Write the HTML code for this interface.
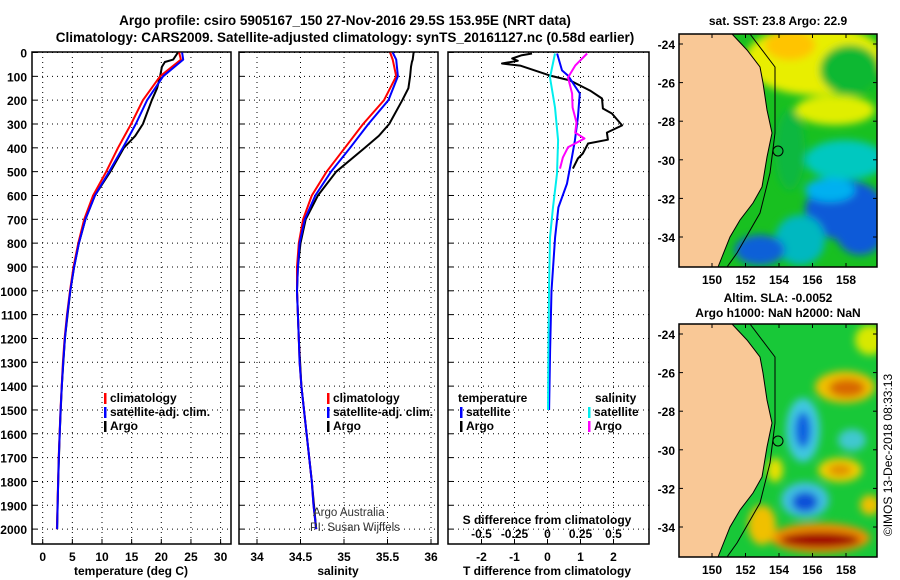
<!DOCTYPE html>
<html><head><meta charset="utf-8"><style>
html,body{margin:0;padding:0;background:#fff;}
svg{display:block;font-family:"Liberation Sans",sans-serif;}
.b{font-weight:bold;font-size:12px;fill:#000;}
.t{font-weight:bold;font-size:13.5px;fill:#000;}
</style></head><body>
<svg id="s" width="900" height="580" viewBox="0 0 900 580" xmlns="http://www.w3.org/2000/svg">
<text class="t" x="345" y="25" text-anchor="middle">Argo profile: csiro 5905167_150 27-Nov-2016 29.5S 153.95E (NRT data)</text>
<text class="t" x="345" y="42" text-anchor="middle">Climatology: CARS2009. Satellite-adjusted climatology: synTS_20161127.nc (0.58d earlier)</text>
<g id="p1"></g>
<g id="p2"></g>
<g id="p3"></g>
<g id="m1"></g>
<g id="m2"></g>
<text class="b" x="0" y="0" transform="translate(892,455) rotate(-90)" text-anchor="middle" style="font-weight:normal;font-size:12px">©IMOS 13-Dec-2018 08:33:13</text>
</svg>
<script>
const depthTicks=[0,100,200,300,400,500,600,700,800,900,1000,1100,1200,1300,1400,1500,1600,1700,1800,1900,2000];
const tempTicks=[0,5,10,15,20,25,30];
const salTicks=[34,34.5,35,35.5,36];
const salTickLabels=["34","34.5","35","35.5","36"];
const tdTicks=[-2,-1,0,1,2];
const sdTicks=[-0.5,-0.25,0,0.25,0.5];
const sdTickLabels=["-0.5","-0.25","0","0.25","0.5"];
const profDepth=[0,30,100,200,300,400,500,600,700,800,900,1000,1100,1200,1300,1400,1500,1600,1700,1800,1900,2000];
const tempClim=[23.0,23.3,19.8,16.9,14.9,12.7,10.7,8.5,7.0,6.0,5.2,4.6,4.1,3.7,3.4,3.2,3.0,2.85,2.7,2.6,2.5,2.4];
const tempSat=[23.5,23.7,20.3,17.6,15.7,13.5,11.2,8.8,7.2,6.1,5.3,4.65,4.15,3.75,3.45,3.22,3.02,2.87,2.72,2.62,2.52,2.42];
const argoDepth=[0,30,40,60,100,150,200,300,350,400,500,600,700,800,900,1000,1200,1400,1600,1800,2000];
const tempArgo=[22.8,22.0,20.6,20.1,19.8,19.3,18.4,16.9,15.6,13.7,11.4,8.8,7.2,6.1,5.3,4.65,3.75,3.22,2.87,2.62,2.42];
const salClim=[35.53,35.56,35.60,35.46,35.22,35.01,34.80,34.63,34.53,34.48,34.46,34.46,34.47,34.48,34.49,34.51,34.54,34.57,34.60,34.63,34.65,34.68];
const salSat=[35.56,35.60,35.62,35.51,35.28,35.07,34.85,34.67,34.55,34.49,34.47,34.46,34.47,34.48,34.49,34.51,34.54,34.57,34.60,34.63,34.65,34.68];
const salArgo=[35.80,35.79,35.78,35.77,35.76,35.74,35.67,35.52,35.40,35.24,34.91,34.70,34.56,34.50,34.47,34.46,34.48,34.51,34.57,34.63,34.68];
const tdArgoDepth=[4,12,25,35,46,55,97,117,138,160,193,235,256,306,336,366,382,424,445,487];
const tdArgo=[-0.47,-0.8,-1.07,-0.9,-1.38,-0.83,0.08,0.68,0.98,1.29,1.65,1.68,1.95,2.26,1.80,1.83,1.23,1.07,0.92,0.77];
const tdSatDepth=[4,75,97,172,272,369,440,550,650,776,1000,1250,1500];
const tdSat=[0.29,0.44,0.62,0.98,0.92,0.83,0.74,0.59,0.33,0.23,0.12,0.08,0.05];
const sdSatDepth=[4,105,231,369,508,650,776,1000,1250,1500];
const sdSat=[0.057,0.019,0.057,0.08,0.072,0.042,0.019,0.011,0.007,0.004];
const sdArgoDepth=[4,55,105,172,231,294,336,361,398,440,487];
const sdArgo=[0.30,0.21,0.155,0.186,0.19,0.22,0.21,0.28,0.155,0.117,0.095];

const NS="http://www.w3.org/2000/svg";
function mk(parent,tag,attrs,name,text){const e=document.createElementNS(NS,tag);for(const k in attrs)e.setAttribute(k,attrs[k]);


if(text!==undefined)e.textContent=text;parent.appendChild(e);return e;}
const TOP=52,BOT=544;
const yD=d=>52.5+d*0.2383;
function panel(g,x0,x1,xs,ticks,tickLabels){
  mk(g,'rect',{x:x0,y:TOP,width:x1-x0,height:BOT-TOP,fill:'#fff',stroke:'#000','stroke-width':1.5},'plot-box');
  ticks.forEach((t,i)=>{const x=xs(t);
    mk(g,'line',{x1:x,x2:x,y1:TOP,y2:BOT,stroke:'#000','stroke-dasharray':'1,4','stroke-width':1},'x-grid-line');
    mk(g,'line',{x1:x,x2:x,y1:BOT,y2:BOT-5,stroke:'#000'},'x-tick');
    if(tickLabels) mk(g,'text',{x:x,y:BOT+17,class:'b','text-anchor':'middle'},'x-tick-label',tickLabels[i]);});
  depthTicks.forEach(d=>{const y=yD(d);
    mk(g,'line',{x1:x0,x2:x1,y1:y,y2:y,stroke:'#000','stroke-dasharray':'1,4','stroke-width':1},'y-grid-line');
    mk(g,'line',{x1:x0,x2:x0+5,y1:y,y2:y,stroke:'#000'},'y-tick');});
}
function pl(g,ds,vs,xs,col,name){mk(g,'polyline',{points:ds.map((d,i)=>xs(vs[i]).toFixed(1)+','+yD(d).toFixed(1)).join(' '),fill:'none',stroke:col,'stroke-width':2,'stroke-linejoin':'round'},name);}
function legend(g,x,y,items){items.forEach((it,i)=>{mk(g,'rect',{x:x,y:y+i*14-9,width:2.5,height:11,fill:it[0]},'legend-marker');
  mk(g,'text',{x:x+6,y:y+i*14,class:'b'},'legend-entry',it[1]);});}
const p1=document.getElementById('p1');
const xT=t=>42.7+t*5.93;
panel(p1,32,231,xT,tempTicks,tempTicks.map(String));
depthTicks.forEach(d=>mk(p1,'text',{x:27,y:yD(d)+5,class:'b','text-anchor':'end'},'y-tick-label',String(d)));
pl(p1,argoDepth,tempArgo,xT,'#000','temp-argo-line');
pl(p1,profDepth,tempClim,xT,'#f00','temp-climatology-line');
pl(p1,profDepth,tempSat,xT,'#00f','temp-satellite-line');
legend(p1,104,402,[['#f00','climatology'],['#00f','satellite-adj. clim.'],['#000','Argo']]);
mk(p1,'text',{x:131,y:575,class:'b','text-anchor':'middle'},'x-axis-title','temperature (deg C)');
const p2=document.getElementById('p2');
const xS=s=>257+(s-34)*87;
panel(p2,239,438,xS,salTicks,salTickLabels);
pl(p2,argoDepth,salArgo,xS,'#000','sal-argo-line');
pl(p2,profDepth,salClim,xS,'#f00','sal-climatology-line');
pl(p2,profDepth,salSat,xS,'#00f','sal-satellite-line');
legend(p2,327,402,[['#f00','climatology'],['#00f','satellite-adj. clim.'],['#000','Argo']]);
mk(p2,'text',{x:313,y:516,style:'font-size:11.5px;fill:#333'},'credit-line-1','Argo Australia');
mk(p2,'text',{x:310,y:531,style:'font-size:11.5px;fill:#333'},'credit-line-2','PI: Susan Wijffels');
mk(p2,'text',{x:338,y:575,class:'b','text-anchor':'middle'},'x-axis-title','salinity');
const p3=document.getElementById('p3');
const xTD=t=>547.5+t*33, xSD=s=>547.5+s*132;
panel(p3,448,649,xTD,tdTicks,tdTicks.map(String));
pl(p3,tdArgoDepth,tdArgo,xTD,'#000','tdiff-argo-line');
pl(p3,tdSatDepth,tdSat,xTD,'#00f','tdiff-satellite-line');
pl(p3,sdSatDepth,sdSat,xSD,'#0ee','sdiff-satellite-line');
pl(p3,sdArgoDepth,sdArgo,xSD,'#f0f','sdiff-argo-line');
mk(p3,'text',{x:458,y:402,class:'b'},'legend-title-temperature','temperature');
legend(p3,460,416,[['#00f','satellite'],['#000','Argo']]);
mk(p3,'text',{x:595,y:402,class:'b'},'legend-title-salinity','salinity');
legend(p3,588,416,[['#0ee','satellite'],['#f0f','Argo']]);
mk(p3,'text',{x:547,y:524,class:'b','text-anchor':'middle'},'s-axis-title','S difference from climatology');
sdTicks.forEach((s,i)=>mk(p3,'text',{x:xSD(s),y:538,class:'b','text-anchor':'middle'},'s-tick-label',sdTickLabels[i]));
mk(p3,'text',{x:547,y:575,class:'b','text-anchor':'middle'},'x-axis-title','T difference from climatology');
const lonTicks=[150,152,154,156,158], latTicks=[-24,-26,-28,-30,-32,-34];
const xL=l=>712+(l-150)*16.75;
function map(g,oy,blobs,title){
  const defs=mk(g,'defs',{},'defs');
  const cid='c'+oy;
  const cp=mk(defs,'clipPath',{id:cid},'clip');mk(cp,'rect',{x:679,y:34+oy,width:198,height:233},'clip-rect');
  const f=mk(defs,'filter',{id:'f'+oy,x:'-50%',y:'-50%',width:'200%',height:'200%'},'blur');mk(f,'feGaussianBlur',{stdDeviation:4},'blur-op');
  const inner=mk(g,'g',{'clip-path':'url(#'+cid+')'},'map-area');
  mk(inner,'rect',{x:679,y:34+oy,width:198,height:233,fill:blobs.bg},'map-background');
  const bg=mk(inner,'g',{filter:'url(#f'+oy+')'},'map-field');
  blobs.list.forEach(b=>mk(bg,'ellipse',{cx:b[0],cy:b[1]+oy,rx:b[2],ry:b[3],fill:b[4]},'field-patch'));
  const coast=[[732,34],[747,50],[760,67],[763,83],[767,110],[772,133],[767,157],[762,187],[753,203],[740,220],[730,237],[722,257],[718,267],[679,267],[679,34]];
  mk(inner,'polygon',{points:coast.map(p=>p[0]+','+(p[1]+oy)).join(' '),fill:'#f9c896',stroke:'#000','stroke-width':1},'land');
  const shelf=[[750,34],[775,67],[775,133],[770,173],[760,213],[737,253],[727,267]];
  mk(inner,'polyline',{points:shelf.map(p=>p[0]+','+(p[1]+oy)).join(' '),fill:'none',stroke:'#000','stroke-width':1},'depth-contour');
  mk(inner,'circle',{cx:778,cy:151+oy,r:5,fill:'none',stroke:'#000','stroke-width':1},'argo-position');
  mk(g,'rect',{x:679,y:34+oy,width:198,height:233,fill:'none',stroke:'#000','stroke-width':1.5},'map-frame');
  lonTicks.forEach(l=>{mk(g,'line',{x1:xL(l),x2:xL(l),y1:267+oy,y2:263+oy,stroke:'#000'},'lon-tick');
    mk(g,'line',{x1:xL(l),x2:xL(l),y1:34+oy,y2:38+oy,stroke:'#000'},'lon-tick');
    mk(g,'text',{x:xL(l),y:284+oy,class:'b','text-anchor':'middle'},'lon-tick-label',String(l));});
  latTicks.forEach(l=>{const y=44+(-24-l)*19.3+oy;
    mk(g,'line',{x1:877,x2:873,y1:y,y2:y,stroke:'#000'},'lat-tick');
    mk(g,'line',{x1:679,x2:683,y1:y,y2:y,stroke:'#000'},'lat-tick');
    mk(g,'text',{x:675,y:y+5,class:'b','text-anchor':'end'},'lat-tick-label',String(l));});
  title.forEach((t,i)=>mk(g,'text',{x:778,y:(oy?302:25)+oy*0+i*15,class:'b','text-anchor':'middle'},'map-title',t));
}
map(document.getElementById('m1'),0,{bg:'#18c020',list:[
 [815,60,70,35,'#e8ee00'],[790,45,25,15,'#ffc400'],[850,70,30,25,'#10b830'],[835,110,40,15,'#e0ee00'],
 [845,160,40,20,'#00c8c0'],[845,210,40,30,'#0a5ad8'],[830,190,25,12,'#00b0f0'],[860,230,25,25,'#0a5ad8'],
 [800,240,25,25,'#00b8c0'],[760,250,25,15,'#0a60d8'],[790,150,15,40,'#10b840']]},['sat. SST: 23.8 Argo: 22.9']);
map(document.getElementById('m2'),290,{bg:'#18c838',list:[
 [845,97,30,16,'#f0c000'],[847,98,18,9,'#d86800'],[803,140,17,32,'#40c8e0'],[803,140,8,18,'#1060e0'],
 [852,150,14,11,'#40c8d0'],[840,180,22,12,'#f0d000'],[840,180,12,6,'#e09000'],[805,210,24,18,'#40c0e0'],[805,212,13,10,'#1050d8'],
 [820,248,50,15,'#f09000'],[820,250,40,8,'#a00000'],[775,180,8,12,'#e8e000'],[762,235,14,20,'#f0c000'],[870,215,10,10,'#f0c000'],[870,50,15,15,'#d8e800']]},['Altim. SLA: -0.0052','Argo h1000: NaN h2000: NaN']);
</script>
</body></html>
